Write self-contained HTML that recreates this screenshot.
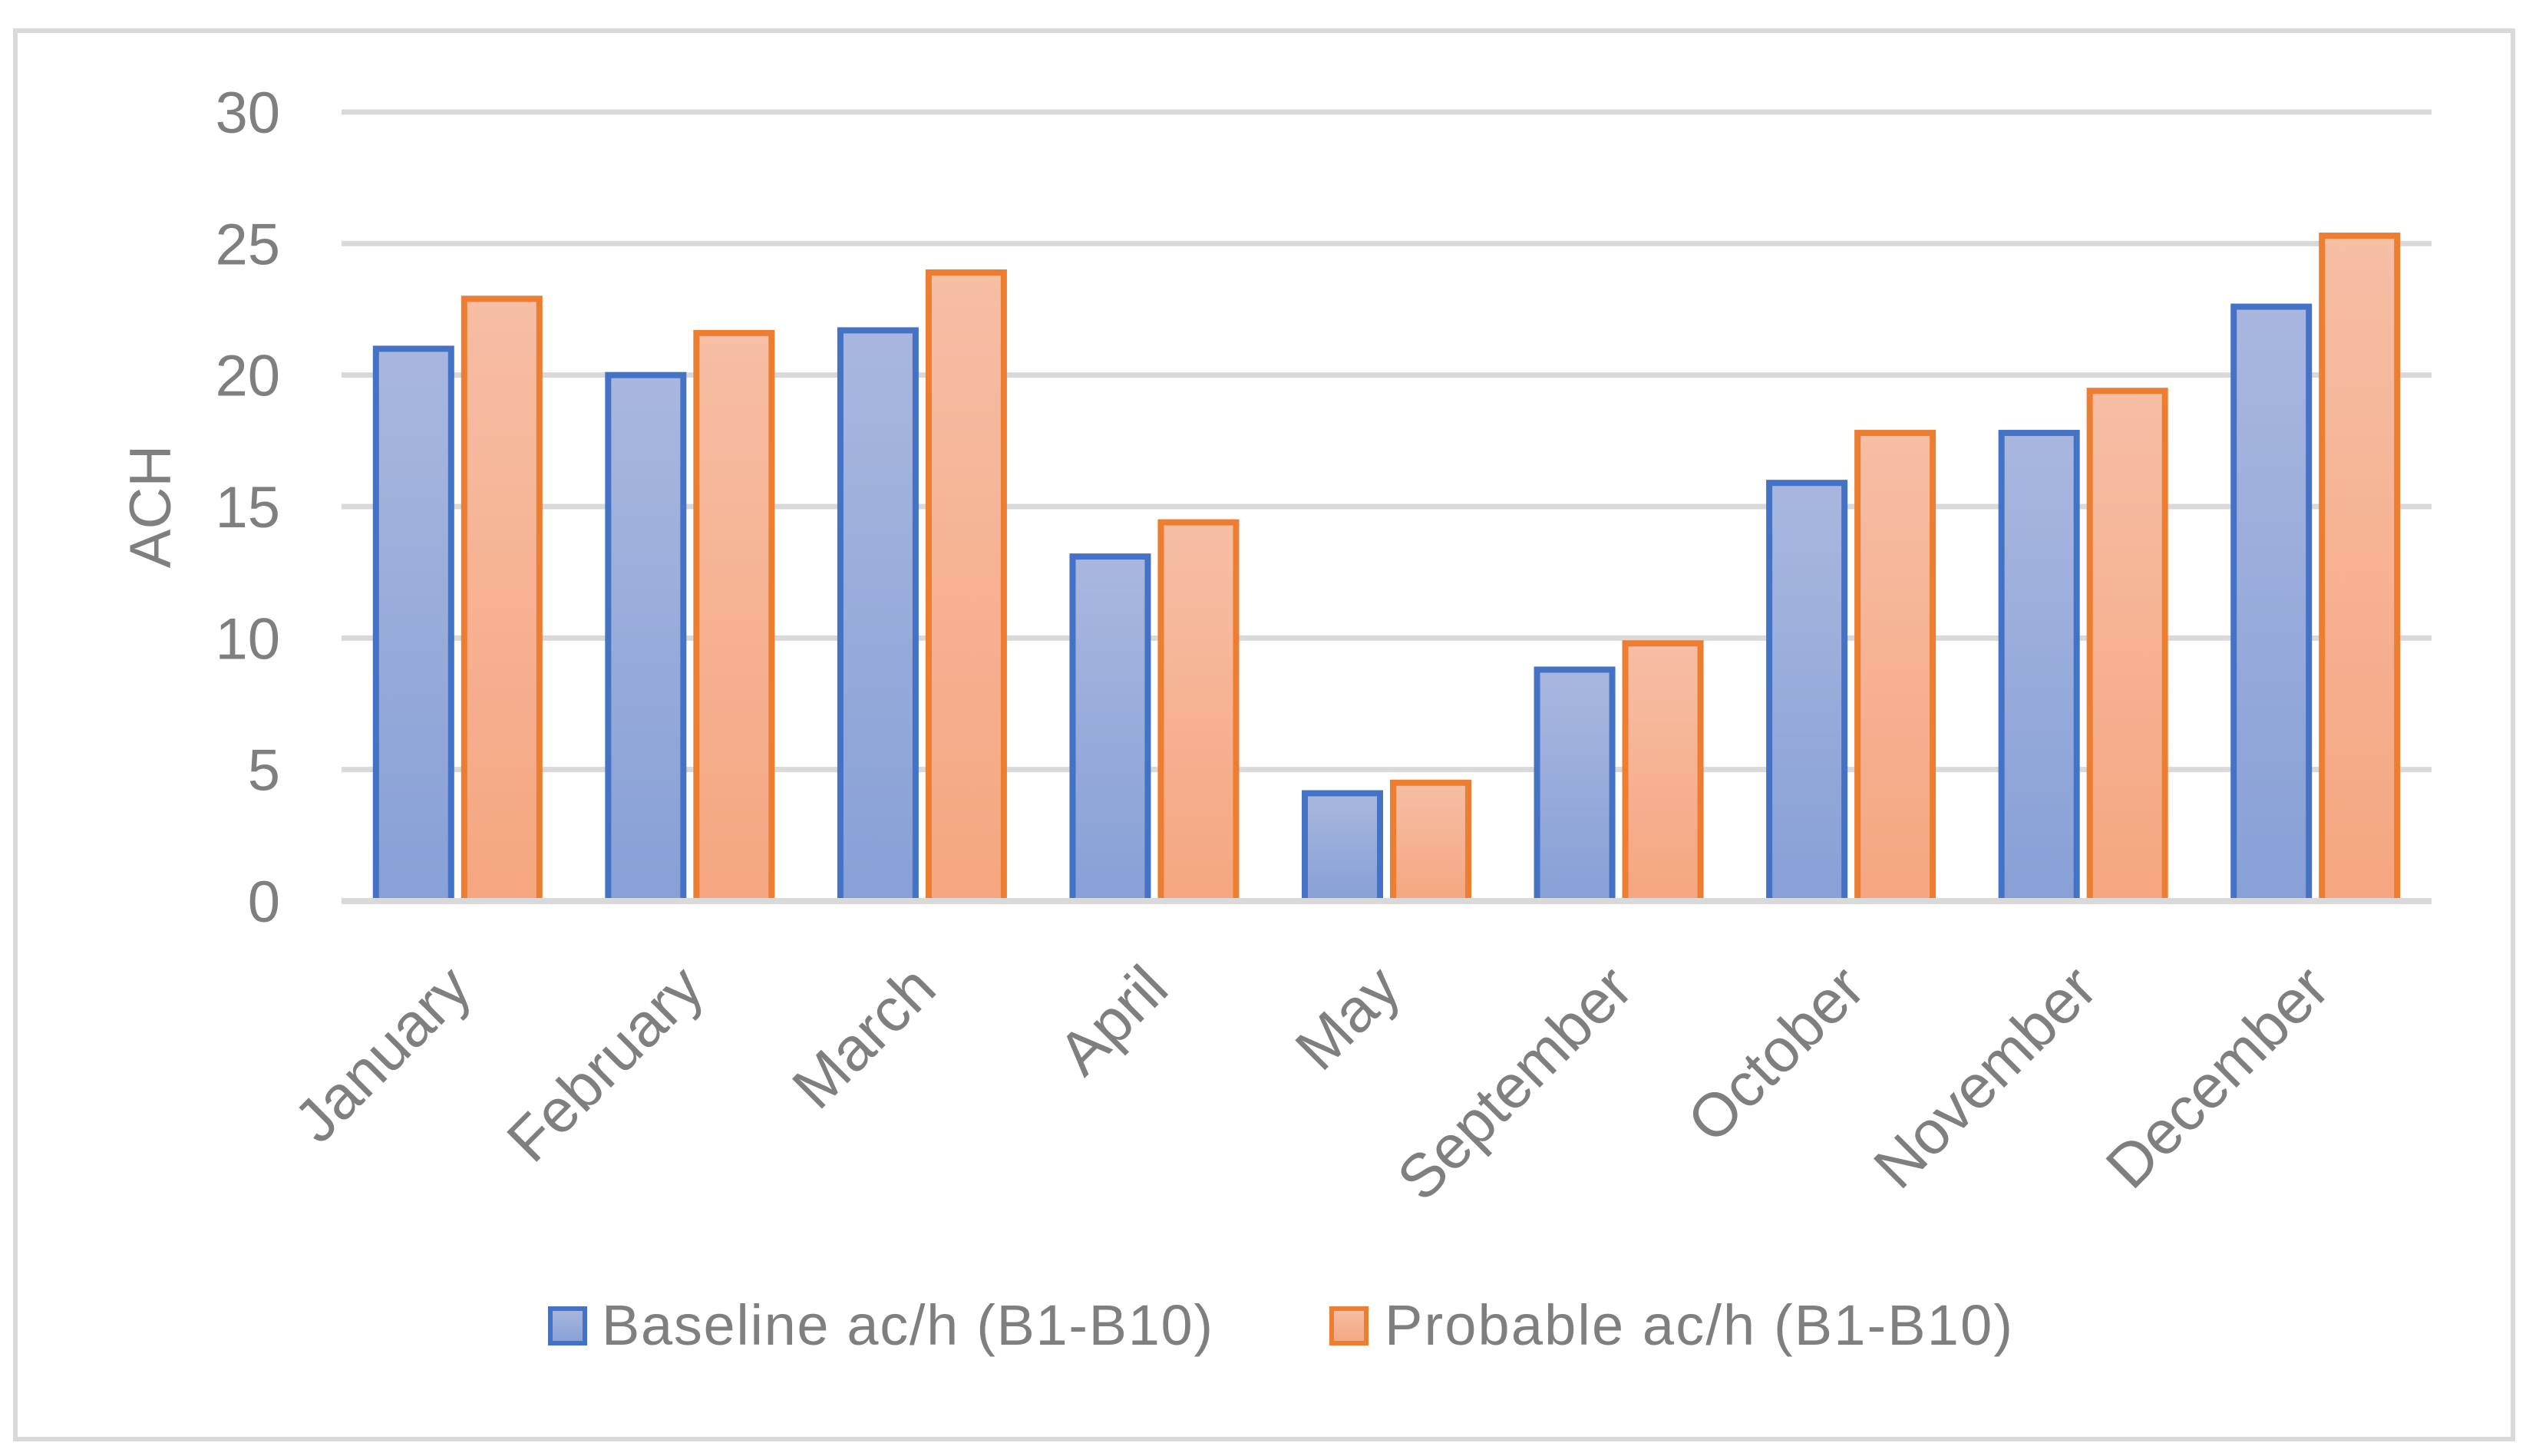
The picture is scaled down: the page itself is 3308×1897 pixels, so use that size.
<!DOCTYPE html>
<html><head><meta charset="utf-8"><style>
html,body{margin:0;padding:0;background:#fff;}
svg{display:block;font-family:"Liberation Sans",sans-serif;}
</style></head><body>
<svg id="chart" width="3308" height="1897" viewBox="0 0 3308 1897" xmlns="http://www.w3.org/2000/svg">
<defs>
<linearGradient id="gb" x1="0" y1="0" x2="0" y2="1"><stop offset="0" stop-color="#a9b7df"/><stop offset="1" stop-color="#87a0d6"/></linearGradient>
<linearGradient id="go" x1="0" y1="0" x2="0" y2="1"><stop offset="0" stop-color="#f6bea4"/><stop offset="1" stop-color="#f5a681"/></linearGradient>
</defs>
<rect x="20" y="40" width="3254" height="1835" fill="#fff" stroke="#d9d9d9" stroke-width="6"/>
<g id="grid"></g>
<g id="bars"></g>
<g id="labels"></g>
<text transform="translate(222,660) rotate(-90)" text-anchor="middle" font-size="76" fill="#7f7f7f">ACH</text>
<g>
<rect x="717" y="1705" width="45" height="45" fill="url(#gb)" stroke="#4472c4" stroke-width="6"/>
<text x="784" y="1752" font-size="74" fill="#7f7f7f" textLength="796">Baseline ac/h (B1-B10)</text>
<rect x="1735" y="1705" width="45" height="45" fill="url(#go)" stroke="#ed7d31" stroke-width="6"/>
<text x="1804" y="1752" font-size="74" fill="#7f7f7f" textLength="818">Probable ac/h (B1-B10)</text>
</g>
</svg>
<script>
const categories = ["January","February","March","April","May","September","October","November","December"];
const baseline = [21.0,20.0,21.7,13.1,4.1,8.8,15.9,17.8,22.6];
const probable = [22.9,21.6,23.9,14.4,4.5,9.8,17.8,19.4,25.3];
const yTicks = [0,5,10,15,20,25,30];

const NS="http://www.w3.org/2000/svg";
const x0=445,x1=3168,yZero=1174,yTop=146,yMax=30;
const band=(x1-x0)/categories.length;
function yScale(v){return yZero-(yZero-yTop)*v/yMax;}
function xCenter(i){return x0+band*(i+0.5);}
function mk(tag,attrs,parent){const e=document.createElementNS(NS,tag);for(const k in attrs)e.setAttribute(k,attrs[k]);parent.appendChild(e);return e;}
const grid=document.getElementById('grid'),bars=document.getElementById('bars'),labels=document.getElementById('labels');
yTicks.forEach(t=>{
  const l=mk('line',{x1:x0,x2:x1,y1:yScale(t),y2:yScale(t),stroke:'#d9d9d9','stroke-width':7},grid);
  
  
  const tx=mk('text',{x:365,y:yScale(t)+27,'text-anchor':'end','font-size':76,fill:'#7f7f7f'},grid);
  tx.textContent=t;
  
  
});
const bw=98,gap=17;
categories.forEach((c,i)=>{
  const cx=xCenter(i);
  const b=mk('rect',{x:cx-gap/2-bw,y:yScale(baseline[i]),width:bw,height:yZero-yScale(baseline[i]),fill:'url(#gb)',stroke:'#4472c4','stroke-width':8},bars);
  
  
  const o=mk('rect',{x:cx+gap/2,y:yScale(probable[i]),width:bw,height:yZero-yScale(probable[i]),fill:'url(#go)',stroke:'#ed7d31','stroke-width':8},bars);
  
  
  const lx=cx+22,ly=1292;
  const t=mk('text',{x:lx,y:ly,'text-anchor':'end','font-size':80,fill:'#7f7f7f',transform:`rotate(-45 ${lx} ${ly})`},labels);
  t.textContent=c;
  
  
});
mk('line',{x1:x0,x2:x1,y1:yZero,y2:yZero,stroke:'#d9d9d9','stroke-width':8},bars);
</script>
</body></html>
